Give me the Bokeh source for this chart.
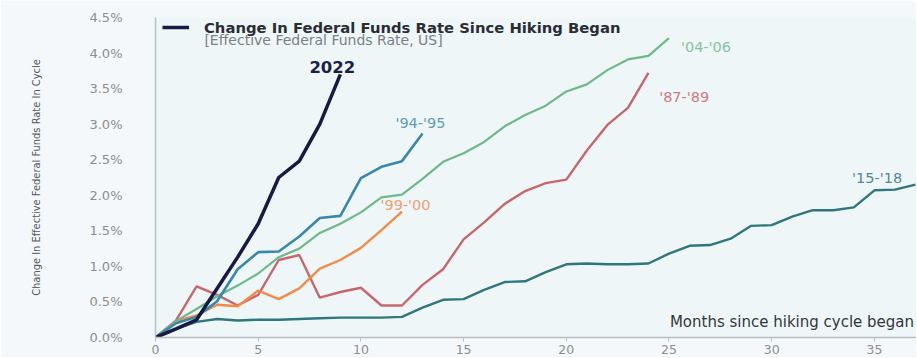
from bokeh.plotting import figure
from bokeh.models import (Label, Legend, LegendItem, FixedTicker,
                          PrintfTickFormatter, Range1d)
from bokeh.embed import file_html
from bokeh.resources import INLINE

# ---------------- data (change in effective fed funds rate, % points) -------------
m_2022 = list(range(0, 10))
v_2022 = [0, 0.12, 0.25, 0.69, 1.13, 1.60, 2.25, 2.48, 3.00, 3.70]

m_9495 = list(range(0, 14))
v_9495 = [0, 0.20, 0.29, 0.51, 0.96, 1.20, 1.21, 1.42, 1.68, 1.71, 2.24, 2.40, 2.48, 2.87]

m_9900 = list(range(0, 13))
v_9900 = [0, 0.23, 0.31, 0.46, 0.44, 0.66, 0.54, 0.69, 0.97, 1.09, 1.26, 1.51, 1.77]

m_0406 = list(range(0, 26))
v_0406 = [0, 0.23, 0.40, 0.58, 0.73, 0.90, 1.13, 1.25, 1.47, 1.60, 1.76, 1.97, 2.01,
          2.23, 2.47, 2.59, 2.75, 2.97, 3.13, 3.26, 3.46, 3.56, 3.76, 3.91, 3.96, 4.21]

m_8789 = list(range(0, 25))
v_8789 = [0, 0.24, 0.72, 0.60, 0.45, 0.60, 1.09, 1.16, 0.56, 0.64, 0.70, 0.45, 0.45,
          0.74, 0.96, 1.38, 1.62, 1.88, 2.06, 2.17, 2.22, 2.63, 2.99, 3.23, 3.72]

m_1518 = list(range(0, 38))
v_1518 = [0, 0.12, 0.22, 0.26, 0.24, 0.25, 0.25, 0.26, 0.27, 0.28, 0.28, 0.28, 0.29,
          0.42, 0.53, 0.54, 0.67, 0.78, 0.79, 0.92, 1.03, 1.04, 1.03, 1.03, 1.04, 1.18,
          1.29, 1.30, 1.39, 1.57, 1.58, 1.70, 1.79, 1.79, 1.83, 2.07, 2.08, 2.15]

x_ticks = [0, 5, 10, 15, 20, 25, 30, 35]
y_ticks = [0, 0.5, 1.0, 1.5, 2.0, 2.5, 3.0, 3.5, 4.0, 4.5]

title_text = "Change In Federal Funds Rate Since Hiking Began"
subtitle_text = "[Effective Federal Funds Rate, US]"
y_label_text = "Change In Effective Federal Funds Rate In Cycle"
x_label_text = "Months since hiking cycle began"

# series labels: (text, x, y, color, bold)
series_labels = [
    ("2022", 8.61, 3.81, "#1b1f47", True),
    ("'94-'95", 12.9, 3.01, "#5e9bb9", False),
    ("'99-'00", 12.17, 1.87, "#f0a070", False),
    ("'04-'06", 26.8, 4.08, "#86c4a0", False),
    ("'87-'89", 25.74, 3.38, "#d0797f", False),
    ("'15-'18", 35.13, 2.25, "#4f8a90", False),
]

FONT = "DejaVu Sans"

p = figure(width=916, height=357, output_backend="svg", toolbar_location=None,
           x_range=Range1d(0, 37.05), y_range=Range1d(0, 4.5),
           min_border_left=155, min_border_right=0, min_border_top=17,
           min_border_bottom=20)

p.background_fill_color = "#eff6f8"
p.border_fill_color = "#f4f8fa"
p.outline_line_color = None
p.grid.grid_line_color = None

# axes
p.xaxis.ticker = FixedTicker(ticks=x_ticks)
p.yaxis.ticker = FixedTicker(ticks=y_ticks)
p.yaxis.formatter = PrintfTickFormatter(format="%.1f%%")
for ax in (p.xaxis[0], p.yaxis[0]):
    ax.axis_line_color = "#b9c0c4"
    ax.axis_line_width = 1.5
    ax.major_label_text_font = FONT
    ax.major_label_text_color = "#8a8f93"
    ax.minor_tick_line_color = None
p.xaxis.major_label_text_font_size = "12.5px"
p.xaxis.major_tick_line_color = "#b9c0c4"
p.xaxis.major_tick_in = 0
p.xaxis.major_tick_out = 4
p.xaxis.major_label_standoff = 3
p.yaxis.major_label_text_font_size = "13px"
p.yaxis.major_tick_line_color = None
p.yaxis.major_label_standoff = 27
p.yaxis.axis_label = y_label_text
p.yaxis.axis_label_text_font = "DejaVu Sans Condensed"
p.yaxis.axis_label_text_font_style = "normal"
p.yaxis.axis_label_text_font_size = "11px"
p.yaxis.axis_label_text_color = "#555a5e"
p.yaxis.axis_label_standoff = 43

# lines
p.line(m_1518, v_1518, line_color="#2f777c", line_width=2.4)
p.line(m_8789, v_8789, line_color="#c7676d", line_width=2.4)
p.line(m_9900, v_9900, line_color="#f08c48", line_width=2.4)
p.line(m_0406, v_0406, line_color="#6db98b", line_width=2.2)
p.line(m_9495, v_9495, line_color="#3a87ad", line_width=2.6)
r2022 = p.line(m_2022, v_2022, line_color="#171b44", line_width=3.5)

# legend with title text
legend = Legend(items=[LegendItem(label=title_text, renderers=[r2022])],
                location=(7, 300), orientation="vertical",
                glyph_width=27, glyph_height=20, label_height=20,
                label_standoff=15, padding=0, margin=0, spacing=0,
                border_line_color=None, background_fill_alpha=0,
                label_text_font=FONT, label_text_font_style="bold",
                label_text_font_size="14.8px", label_text_color="#2a2d33")
p.add_layout(legend)

p.add_layout(Label(x=2.38, y=4.19, text=subtitle_text, text_font=FONT,
                   text_font_size="14px", text_color="#7a7f84",
                   text_baseline="middle", text_align="left"))

for txt, x, y, col, bold in series_labels:
    p.add_layout(Label(x=x, y=y, text=txt, text_font=FONT,
                       text_font_size="16.5px" if bold else "14.5px",
                       text_font_style="bold" if bold else "normal",
                       text_color=col, text_align="center", text_baseline="middle"))

p.add_layout(Label(x=36.93, y=0.225, text=x_label_text, text_font=FONT,
                   text_font_size="15px", text_color="#33363a",
                   text_align="right", text_baseline="middle"))

open("out.html", "w").write(file_html(p, INLINE))
